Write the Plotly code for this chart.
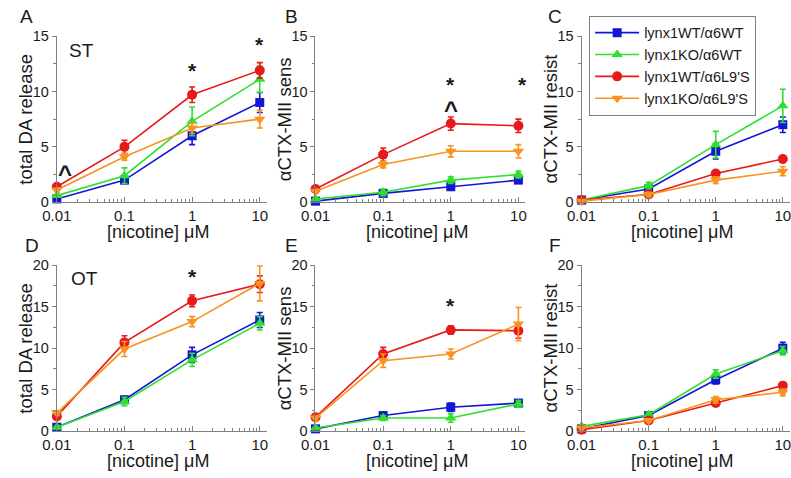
import plotly.graph_objects as go

# ---------------- data ----------------
conc = [0.01, 0.1, 1, 10]
x_ticks = [0.01, 0.1, 1, 10]
x_ticktext = ["0.01", "0.1", "1", "10"]
series_names = ["lynx1WT/α6WT", "lynx1KO/α6WT", "lynx1WT/α6L9'S", "lynx1KO/α6L9'S"]
colors = ["#1515d6", "#2fe02f", "#e8191b", "#f7931e"]
symbols = ["square", "triangle-up", "circle", "triangle-down"]

# Panel A: ST total DA release
A_mean = [[0.3, 2.0, 6.0, 9.0], [0.6, 2.4, 7.3, 11.1], [1.4, 5.0, 9.7, 11.9], [1.1, 4.1, 6.7, 7.5]]
A_err = [[0.1, 0.3, 0.8, 0.9], [0.1, 0.7, 1.3, 1.2], [0.2, 0.6, 0.7, 0.7], [0.2, 0.3, 0.5, 0.8]]
# Panel B: ST aCTX-MII sens
B_mean = [[0.1, 0.8, 1.4, 2.0], [0.3, 0.9, 2.0, 2.5], [1.2, 4.3, 7.1, 6.9], [1.0, 3.4, 4.6, 4.6]]
B_err = [[0.1, 0.2, 0.2, 0.2], [0.1, 0.3, 0.3, 0.3], [0.2, 0.6, 0.6, 0.6], [0.2, 0.3, 0.5, 0.6]]
# Panel C: ST aCTX-MII resist
C_mean = [[0.2, 1.2, 4.6, 7.0], [0.2, 1.5, 5.2, 8.7], [0.2, 0.7, 2.6, 3.9], [0.1, 0.7, 2.0, 2.8]]
C_err = [[0.1, 0.2, 0.7, 0.7], [0.1, 0.3, 1.2, 1.5], [0.1, 0.2, 0.2, 0.3], [0.1, 0.2, 0.3, 0.4]]
# Panel D: OT total DA release
D_mean = [[0.5, 3.8, 9.2, 13.4], [0.5, 3.6, 8.6, 13.0], [1.8, 10.7, 15.7, 17.7], [2.2, 9.9, 13.2, 17.8]]
D_err = [[0.2, 0.4, 0.9, 0.9], [0.2, 0.5, 0.8, 0.8], [0.3, 0.8, 0.7, 1.0], [0.3, 0.9, 0.6, 2.1]]
# Panel E: OT aCTX-MII sens
E_mean = [[0.3, 1.9, 2.9, 3.4], [0.4, 1.6, 1.6, 3.3], [1.7, 9.3, 12.2, 12.1], [1.6, 8.5, 9.3, 12.9]]
E_err = [[0.1, 0.3, 0.5, 0.3], [0.1, 0.3, 0.5, 0.4], [0.3, 0.8, 0.5, 0.9], [0.3, 0.8, 0.6, 2.0]]
# Panel F: OT aCTX-MII resist
F_mean = [[0.3, 1.9, 6.2, 10.0], [0.6, 2.0, 6.9, 9.7], [0.2, 1.3, 3.4, 5.5], [0.4, 1.3, 3.8, 4.7]]
F_err = [[0.1, 0.3, 0.5, 0.7], [0.1, 0.3, 0.5, 0.5], [0.1, 0.2, 0.3, 0.3], [0.1, 0.2, 0.4, 0.4]]

panel_letters = ["A", "B", "C", "D", "E", "F"]
y_titles = ["total DA release", "αCTX-MII sens", "αCTX-MII resist",
            "total DA release", "αCTX-MII sens", "αCTX-MII resist"]
x_title = "[nicotine] μM"
y_max = [15, 15, 15, 20, 20, 20]

panels = [(A_mean, A_err), (B_mean, B_err), (C_mean, C_err),
          (D_mean, D_err), (E_mean, E_err), (F_mean, F_err)]

# ---------------- layout geometry (pixels) ----------------
W, H = 791, 478
col_px = [(42.7, 256.7), (306.7, 520.7), (578.3, 790.5)]
row_px = [(29, 201), (266, 438)]
letter_px = [(12, 9), (282, 9), (551, 9), (17, 246), (282, 246), (551, 246)]

FONT = "Liberation Sans, Arial, sans-serif"
AXCOL = "#808080"
TXT = "#1a1a1a"

fig = go.Figure()
annotations = []
minor_x = [m * 10 ** e for e in (-2, -1, 0) for m in range(2, 10)]

for i, (means, errs) in enumerate(panels):
    r, c = divmod(i, 3)
    suffix = "" if i == 0 else str(i + 1)
    xa, ya = "x" + suffix, "y" + suffix
    for s in range(4):
        fig.add_trace(go.Scatter(
            x=conc, y=means[s], xaxis=xa, yaxis=ya,
            mode="lines+markers", name=series_names[s],
            legendgroup=series_names[s], showlegend=(i == 0),
            line=dict(color=colors[s], width=1.6),
            marker=dict(symbol=symbols[s], size=10 if s else 9, color=colors[s]),
            error_y=dict(type="data", array=errs[s], color=colors[s], thickness=1.6, width=3),
            cliponaxis=False,
        ))
    x0, x1 = col_px[c]
    t, b = row_px[r]
    fig.layout["xaxis" + suffix] = dict(
        domain=[x0 / W, x1 / W], anchor=ya, type="log", range=[-2, 1.1],
        tickmode="array", tickvals=x_ticks, ticktext=x_ticktext,
        ticks="inside", ticklen=5, tickcolor=AXCOL, tickwidth=1,
        minor=dict(tickmode="array", tickvals=minor_x, ticks="inside", ticklen=3,
                   tickcolor=AXCOL, showgrid=False),
        showline=True, linecolor=AXCOL, linewidth=1, showgrid=False, zeroline=False,
        ticklabeloverflow="allow",
        tickfont=dict(family=FONT, size=15, color=TXT),
    )
    fig.layout["yaxis" + suffix] = dict(
        domain=[(H - b) / H, (H - t) / H], anchor=xa, range=[0, y_max[i]],
        tickmode="linear", tick0=0, dtick=5,
        ticks="outside", ticklen=4, tickcolor=AXCOL, tickwidth=1,
        minor=dict(tick0=0, dtick=2.5, ticks="outside", ticklen=2.5, tickcolor=AXCOL, showgrid=False),
        showline=True, linecolor=AXCOL, linewidth=1, showgrid=False, zeroline=False,
        tickfont=dict(family=FONT, size=14.5, color=TXT),
    )
    # axis titles
    annotations.append(dict(text=y_titles[i], xref="paper", yref="paper",
                            x=(x0 - 32) / W, y=(H - (t + b) / 2) / H, textangle=-90,
                            showarrow=False, xanchor="center", yanchor="middle",
                            font=dict(family=FONT, size=18.5, color=TXT)))
    annotations.append(dict(text=x_title, xref="paper", yref="paper",
                            x=(x0 + (x1 - x0) * 3 / 3.1 / 2) / W, y=(H - (b + 31)) / H,
                            showarrow=False, xanchor="center", yanchor="middle",
                            font=dict(family=FONT, size=18, color=TXT)))
    lx, ly = letter_px[i]
    annotations.append(dict(text=panel_letters[i], xref="paper", yref="paper",
                            x=lx / W, y=(H - ly) / H, showarrow=False,
                            xanchor="center", yanchor="middle",
                            font=dict(family=FONT, size=19, color=TXT)))

# region labels and significance marks (x in log10 units)
marks = [
    ("x", "y", -1.63, 13.7, "ST", 19),
    ("x4", "y4", -1.59, 18.4, "OT", 19),
    ("x", "y", -1.88, 2.6, "<b>^</b>", 24),
    ("x", "y", 0.0, 11.9, "<b>*</b>", 21),
    ("x", "y", 1.0, 14.2, "<b>*</b>", 21),
    ("x2", "y2", 0.0, 10.6, "<b>*</b>", 21),
    ("x2", "y2", 0.0, 8.4, "<b>^</b>", 24),
    ("x2", "y2", 1.06, 10.6, "<b>*</b>", 21),
    ("x4", "y4", 0.0, 18.6, "<b>*</b>", 21),
    ("x5", "y5", 0.0, 15.1, "<b>*</b>", 21),
]
for xr, yr, xv, yv, txt, sz in marks:
    annotations.append(dict(text=txt, xref=xr, yref=yr, x=xv, y=yv, showarrow=False,
                            xanchor="center", yanchor="middle",
                            font=dict(family=FONT, size=sz, color=TXT)))

fig.update_layout(
    width=W, height=H, autosize=False,
    margin=dict(l=0, r=0, t=0, b=0),
    paper_bgcolor="white", plot_bgcolor="white",
    annotations=annotations,
    showlegend=True,
    legend=dict(x=586 / W, y=(H - 8) / H, xanchor="left", yanchor="top",
                bordercolor=AXCOL, borderwidth=1, bgcolor="white",
                font=dict(family=FONT, size=14.5, color=TXT),
                tracegroupgap=0, itemwidth=44),
)

fig.write_html("out.html", config={"displayModeBar": False},
               post_script="document.body.style.margin='0';")
